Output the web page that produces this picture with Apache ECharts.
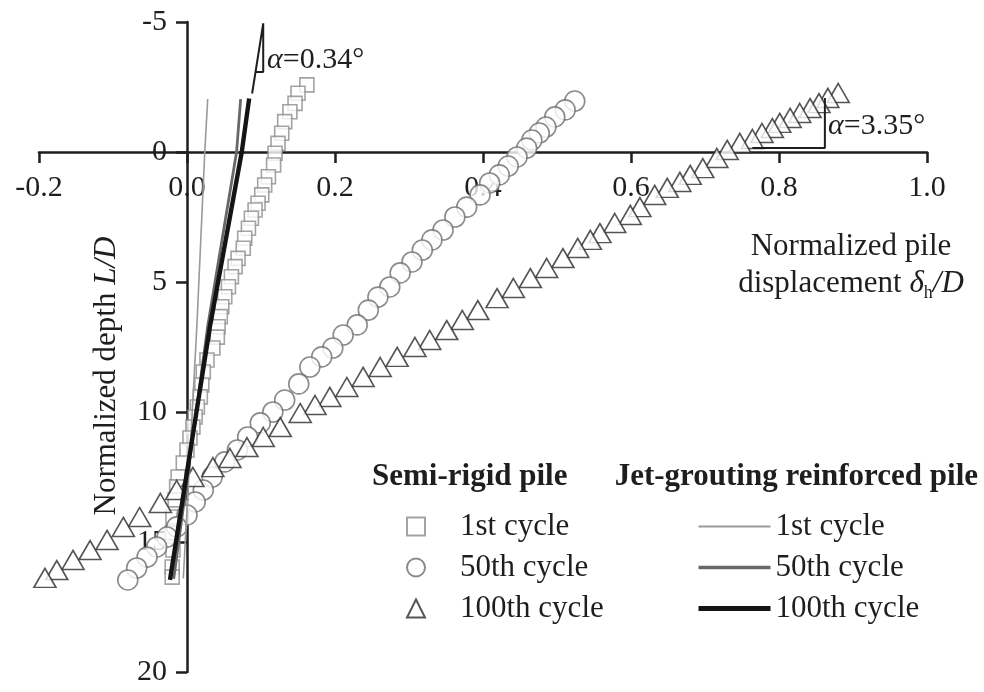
<!DOCTYPE html>
<html>
<head>
<meta charset="utf-8">
<script src="https://cdn.jsdelivr.net/npm/echarts@6/dist/echarts.min.js"></script>
<style>
  html, body { margin: 0; padding: 0; background: #fff; }
  #chart { width: 984px; height: 692px; }
</style>
</head>
<body>
<div id="chart"></div>
<script>
// Axis ticks
const dispTicks = [-0.2, 0.0, 0.2, 0.4, 0.6, 0.8, 1.0];
const depthTicks = [-5, 0, 5, 10, 15, 20];

// Semi-rigid pile: [normalized displacement, normalized depth]
const semiCycle1 = [
  [0.162,-2.58],[0.150,-2.26],[0.146,-1.87],[0.139,-1.55],[0.132,-1.17],[0.128,-0.72],
  [0.123,-0.33],[0.119,0.05],[0.117,0.50],[0.110,0.95],[0.105,1.27],[0.101,1.65],
  [0.096,1.97],[0.092,2.23],[0.087,2.55],[0.083,2.93],[0.078,3.32],[0.076,3.70],
  [0.069,4.09],[0.065,4.41],[0.060,4.80],[0.056,5.18],[0.051,5.57],[0.047,5.95],
  [0.045,6.33],[0.042,6.72],[0.041,7.12],[0.035,7.54],[0.027,8.00],[0.022,8.46],
  [0.020,8.96],[0.018,9.42],[0.014,9.81],[0.011,10.19],[0.008,10.58],[0.004,11.00],
  [0.000,11.46],[-0.005,11.96],[-0.012,12.50],[-0.014,12.88],[-0.016,13.38],[-0.019,14.04],
  [-0.020,14.65],[-0.019,15.31],[-0.020,15.96],[-0.020,16.35]
];
const semiCycle50 = [
  [0.524,-1.96],[0.511,-1.62],[0.497,-1.35],[0.485,-0.96],[0.476,-0.73],[0.466,-0.46],
  [0.459,-0.15],[0.446,0.19],[0.434,0.54],[0.422,0.88],[0.409,1.19],[0.396,1.65],
  [0.378,2.12],[0.362,2.50],[0.346,3.00],[0.331,3.38],[0.318,3.77],[0.304,4.23],
  [0.288,4.65],[0.274,5.19],[0.258,5.58],[0.245,6.08],[0.230,6.65],[0.211,7.04],
  [0.197,7.54],[0.182,7.88],[0.166,8.27],[0.151,8.92],[0.132,9.54],[0.116,10.00],
  [0.099,10.42],[0.082,10.96],[0.068,11.46],[0.051,11.92],[0.034,12.50],[0.022,13.00],
  [0.011,13.46],[0.000,13.96],[-0.014,14.42],[-0.027,14.81],[-0.041,15.19],[-0.054,15.58],
  [-0.068,16.00],[-0.080,16.46]
];
const semiCycle100 = [
  [0.880,-2.27],[0.866,-2.08],[0.854,-1.88],[0.842,-1.69],[0.828,-1.50],[0.815,-1.31],
  [0.801,-1.12],[0.791,-0.92],[0.777,-0.73],[0.764,-0.50],[0.747,-0.35],[0.730,-0.08],
  [0.716,0.23],[0.697,0.62],[0.680,0.88],[0.666,1.15],[0.649,1.38],[0.632,1.65],
  [0.612,2.12],[0.599,2.42],[0.578,2.73],[0.558,3.12],[0.545,3.38],[0.528,3.69],
  [0.508,4.08],[0.486,4.46],[0.464,4.85],[0.441,5.23],[0.419,5.62],[0.393,6.08],
  [0.372,6.46],[0.351,6.85],[0.328,7.23],[0.308,7.50],[0.284,7.88],[0.261,8.27],
  [0.238,8.65],[0.216,9.04],[0.193,9.42],[0.173,9.73],[0.153,10.04],[0.126,10.58],
  [0.103,10.96],[0.081,11.35],[0.058,11.77],[0.035,12.12],[0.008,12.50],[-0.014,13.00],
  [-0.036,13.50],[-0.064,14.04],[-0.086,14.42],[-0.108,14.92],[-0.131,15.31],[-0.154,15.69],
  [-0.176,16.08],[-0.192,16.38]
];

// Jet-grouting reinforced pile
const jetCycle1 = [[0.028,-2.04],[0.024,0.0],[0.0135,6.60],[-0.005,16.40]];
const jetCycle50 = [[0.0725,-2.03],[0.067,0.0],[0.028,6.70],[-0.018,16.42]];
const jetCycle100 = [[0.084,-2.06],[0.074,0.0],[0.031,6.72],[0.004,11.58],[-0.023,16.46]];

// Rotation-angle guide triangles
const alphaJetGuide = [[0.088,-2.25],[0.103,-4.95],[0.103,-3.08],[0.0927,-3.08]];
const alphaSemiGuide = [[0.764,-0.15],[0.862,-0.15],[0.862,-2.08]];

const SERIF = "'Liberation Serif', 'Times New Roman', serif";
const INK = '#1e1e1e';

const semiNames = ['Semi-rigid pile|1st cycle', 'Semi-rigid pile|50th cycle', 'Semi-rigid pile|100th cycle'];
const jetNames = ['Jet-grouting reinforced pile|1st cycle', 'Jet-grouting reinforced pile|50th cycle', 'Jet-grouting reinforced pile|100th cycle'];
const shortName = n => n.split('|')[1];

// Line styles of the jet-grouting curves (shared by series and legend)
const jetStyles = [
  { color: '#9a9a9a', width: 1.6 },
  { color: '#686868', width: 2.8 },
  { color: '#141414', width: 4.4 }
];
const jetLegendWidths = [2, 3.5, 5];

// Plot rectangle
const GRID = { left: 39, right: 57, top: 22, bottom: 20 };
const PLOT_W = 984 - GRID.left - GRID.right;
const PLOT_H = 692 - GRID.top - GRID.bottom;
const xMin = dispTicks[0], xMax = dispTicks[dispTicks.length - 1];
const yMin = depthTicks[0], yMax = depthTicks[depthTicks.length - 1];
// The two axes cross at the origin: shift them from the grid edges onto zero
const yAxisShift = PLOT_W * (0 - xMin) / (xMax - xMin);
const xAxisShift = PLOT_H * (0 - yMin) / (yMax - yMin);

const chart = echarts.init(document.getElementById('chart'));

const axisLineStyle = { color: INK, width: 2.5 };

chart.setOption({
  animation: false,
  backgroundColor: '#fff',
  grid: Object.assign({ containLabel: false, outerBoundsMode: 'none' }, GRID),
  xAxis: {
    type: 'value',
    position: 'top',
    offset: -xAxisShift,
    min: xMin,
    max: xMax,
    interval: 0.2,
    axisLine: { onZero: false, lineStyle: axisLineStyle },
    axisTick: { show: true, inside: true, length: 11, lineStyle: axisLineStyle },
    axisLabel: {
      inside: true, margin: 21, fontSize: 30, fontFamily: SERIF, color: INK,
      formatter: v => (Math.abs(v) < 1e-9 ? 0 : v).toFixed(1)
    },
    splitLine: { show: false }
  },
  yAxis: {
    type: 'value',
    inverse: true,
    position: 'left',
    offset: -yAxisShift,
    min: yMin,
    max: yMax,
    interval: 5,
    axisLine: { onZero: false, lineStyle: axisLineStyle },
    axisTick: { show: true, inside: false, length: 11, lineStyle: axisLineStyle },
    axisLabel: { margin: 20, fontSize: 30, fontFamily: SERIF, color: INK },
    splitLine: { show: false }
  },
  legend: [
    {
      data: semiNames,
      orient: 'vertical',
      left: 406, top: 511, padding: 0,
      itemWidth: 18, itemHeight: 18, itemGap: 10,
      formatter: shortName,
      textStyle: { fontSize: 31, fontFamily: SERIF, color: INK, lineHeight: 30, padding: [0, 0, 0, 30] },
      selectedMode: false
    },
    {
      data: jetNames.map((n, i) => ({
        name: n,
        lineStyle: { color: jetStyles[i].color, width: jetLegendWidths[i] }
      })),
      orient: 'vertical',
      left: 696, top: 511, padding: 0,
      itemWidth: 72, itemHeight: 18, itemGap: 10,
      formatter: shortName,
      itemStyle: { opacity: 0 },
      textStyle: { fontSize: 31, fontFamily: SERIF, color: INK, lineHeight: 30 },
      selectedMode: false
    }
  ],
  series: [
    {
      name: semiNames[0], type: 'scatter', data: semiCycle1,
      symbol: 'rect', symbolSize: 14, z: 2,
      itemStyle: { color: '#fff', borderColor: '#8c8c8c', borderWidth: 1.6 }
    },
    {
      name: semiNames[1], type: 'scatter', data: semiCycle50,
      symbol: 'circle', symbolSize: 20, z: 3,
      itemStyle: { color: '#fff', borderColor: '#6e6e6e', borderWidth: 1.6 }
    },
    {
      name: semiNames[2], type: 'scatter', data: semiCycle100,
      symbol: 'triangle', symbolSize: [22, 19], z: 4,
      itemStyle: { color: '#fff', borderColor: '#2a2a2a', borderWidth: 1.6 }
    },
    {
      name: jetNames[0], type: 'line', data: jetCycle1, symbol: 'none', z: 5,
      lineStyle: jetStyles[0], itemStyle: { color: jetStyles[0].color }
    },
    {
      name: jetNames[1], type: 'line', data: jetCycle50, symbol: 'none', z: 6,
      lineStyle: jetStyles[1], itemStyle: { color: jetStyles[1].color }
    },
    {
      name: jetNames[2], type: 'line', data: jetCycle100, symbol: 'none', z: 7,
      lineStyle: jetStyles[2], itemStyle: { color: jetStyles[2].color }
    },
    {
      name: 'alpha-jet', type: 'line', data: alphaJetGuide, symbol: 'none', z: 8,
      lineStyle: { color: INK, width: 2 }
    },
    {
      name: 'alpha-semi', type: 'line', data: alphaSemiGuide, symbol: 'none', z: 8,
      lineStyle: { color: INK, width: 2 }
    }
  ],
  graphic: [
    {
      type: 'text', left: 372, top: 461, z: 10,
      style: { text: 'Semi-rigid pile', font: 'bold 31px ' + SERIF, fill: INK }
    },
    {
      type: 'text', right: 6, top: 461, z: 10,
      style: { text: 'Jet-grouting reinforced pile', font: 'bold 31px ' + SERIF, fill: INK }
    },
    {
      type: 'text', x: 107, y: 376, rotation: Math.PI / 2, z: 10,
      style: {
        text: 'Normalized depth {i|L/D}',
        font: '31px ' + SERIF, fill: INK, align: 'center', verticalAlign: 'middle',
        rich: { i: { fontStyle: 'italic', fontSize: 31, fontFamily: SERIF, fill: INK } }
      }
    },
    {
      type: 'text', x: 851, y: 228, z: 10,
      style: {
        text: 'Normalized pile\ndisplacement {i|δ}{s|h}{i|/D}',
        font: '31px ' + SERIF, fill: INK, align: 'center', verticalAlign: 'top', lineHeight: 37,
        rich: {
          i: { fontStyle: 'italic', fontSize: 31, fontFamily: SERIF, fill: INK, lineHeight: 37 },
          s: { fontSize: 18, fontFamily: SERIF, fill: INK, verticalAlign: 'bottom', lineHeight: 37 }
        }
      }
    },
    {
      type: 'text', x: 267, y: 60, z: 10,
      style: {
        text: '{i|α}=0.34°', font: '30px ' + SERIF, fill: INK, verticalAlign: 'middle',
        rich: { i: { fontStyle: 'italic', fontSize: 30, fontFamily: SERIF, fill: INK } }
      }
    },
    {
      type: 'text', x: 828, y: 126, z: 10,
      style: {
        text: '{i|α}=3.35°', font: '30px ' + SERIF, fill: INK, verticalAlign: 'middle',
        rich: { i: { fontStyle: 'italic', fontSize: 30, fontFamily: SERIF, fill: INK } }
      }
    }
  ]
});
</script>
</body>
</html>
